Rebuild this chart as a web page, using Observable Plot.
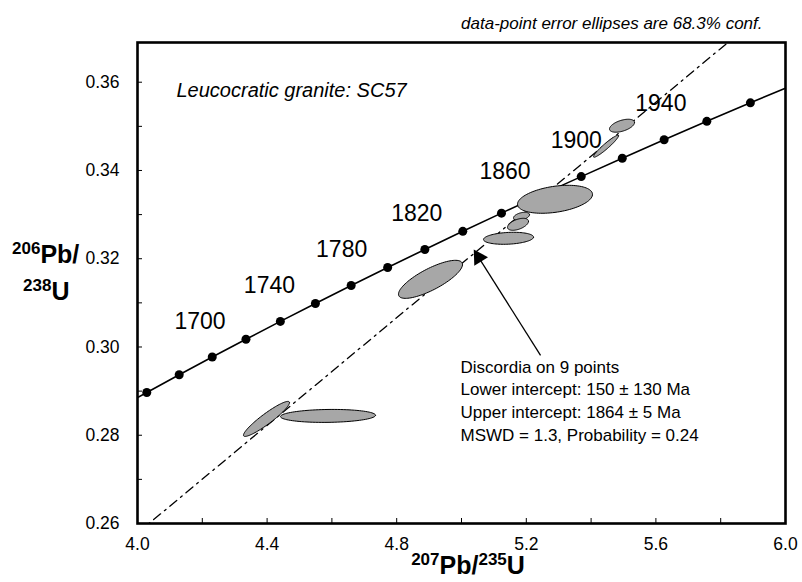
<!DOCTYPE html>
<html><head><meta charset="utf-8">
<script src="https://cdn.jsdelivr.net/npm/d3@7"></script>
<script src="https://cdn.jsdelivr.net/npm/@observablehq/plot@0.6"></script>
<style>body{margin:0;background:#fff} svg{display:block}</style>
</head><body><div id="chart"></div>
<script>
// Concordia curve points (age in Ma, 207Pb/235U, 206Pb/238U)
const concAges = [1620,1640,1660,1680,1700,1720,1740,1760,1780,1800,1820,1840,1860,1880,1900,1920,1940,1960,1980];
const concX = [3.93058,4.02866,4.12869,4.23071,4.33477,4.44089,4.54912,4.65950,4.77208,4.88690,5.00401,5.12344,5.24524,5.36947,5.49617,5.62540,5.75719,5.89160,6.02870];
const concY = [0.28570,0.28969,0.29370,0.29772,0.30175,0.30580,0.30986,0.31393,0.31801,0.32210,0.32621,0.33033,0.33447,0.33861,0.34277,0.34695,0.35113,0.35533,0.35954];
const labelAges = [1700,1740,1780,1820,1860,1900,1940];

// Data-point error ellipses: centre, half-extent in x and y, correlation
const ellX   = [5.4954,5.4460,5.2886,5.1852,5.1744,5.1451,4.9043,4.3981,4.5880];
const ellY   = [0.35014,0.34549,0.33347,0.32961,0.32780,0.32463,0.31533,0.28370,0.28438];
const ellSX  = [0.0386,0.0386,0.1157,0.0247,0.0324,0.0772,0.0988,0.0710,0.1466];
const ellSY  = [0.00147,0.00249,0.00317,0.00091,0.00136,0.00136,0.00431,0.00397,0.00147];
const ellRho = [0.5,0.95,0.35,0.4,0.5,0.2,0.78,0.93,0.1];

// Discordia line end points
const discX = [4.0, 5.85];
const discY = [0.25784, 0.37070];

// Arrow (tail -> tip) and annotation
const arrowX = [5.244, 5.043];
const arrowY = [0.2981, 0.32145];
const noteX = 4.997, noteY = 0.2978;
const noteLines = ["Discordia on 9 points","Lower intercept: 150 ± 130 Ma","Upper intercept: 1864 ± 5 Ma","MSWD = 1.3, Probability = 0.24"];
const sampleTitle = "Leucocratic granite: SC57";
const captionText = "data-point error ellipses are 68.3% conf.";

// axis ticks
const xTicks = [4.0,4.2,4.4,4.6,4.8,5.0,5.2,5.4,5.6,5.8,6.0];
const xLabelTicks = [4.0,4.4,4.8,5.2,5.6,6.0];
const yTicks = [0.26,0.27,0.28,0.29,0.30,0.31,0.32,0.33,0.34,0.35,0.36];
const yLabelTicks = [0.26,0.28,0.30,0.32,0.34,0.36];

const conc = concAges.map((a,i)=>({age:a, x:concX[i], y:concY[i]}));
const labels = conc.filter(d => labelAges.includes(d.age));
const ellPts = [];
ellX.forEach((cx,i)=>{
  const n = 96, r = ellRho[i], s = Math.sqrt(1 - r*r);
  for (let k=0;k<n;k++){
    const t = 2*Math.PI*k/n;
    ellPts.push({id:i, x: cx + ellSX[i]*Math.cos(t), y: ellY[i] + ellSY[i]*(r*Math.cos(t) + s*Math.sin(t))});
  }
});
const disc = discX.map((x,i)=>({x, y:discY[i]}));
const arrowHead = [{x: arrowX[1] + 0.05*(arrowX[0]-arrowX[1]), y: arrowY[1] + 0.05*(arrowY[0]-arrowY[1])}];

const font = "'Liberation Sans', Arial, Helvetica, sans-serif";
const near = (a, list) => list.some(v => Math.abs(v - a) < 1e-6);

const chart = Plot.plot({
  width: 802, height: 582,
  marginLeft: 137, marginRight: 17, marginTop: 42, marginBottom: 59,
  x: {domain: [4, 6]},
  y: {domain: [0.26, 0.369]},
  style: {fontFamily: font, fontSize: "17px", background: "white", color: "black", overflow: "visible"},
  marks: [
    Plot.line(conc, {x: "x", y: "y", stroke: "black", strokeWidth: 1.6, clip: true}),
    Plot.dot(conc, {x: "x", y: "y", r: 4.5, fill: "black", stroke: "none", clip: true}),
    Plot.line(disc, {x: "x", y: "y", stroke: "black", strokeWidth: 1.3, strokeDasharray: "9,5,2,5", clip: true}),
    Plot.line(ellPts, {x: "x", y: "y", z: "id", curve: "linear-closed", fill: "url(#stip)", stroke: "black", strokeWidth: 1}),
    Plot.text(labels.filter(d => d.age !== 1860), {x: "x", y: "y", text: d => String(d.age), dx: -46, dy: -18, fontSize: 23, fill: "black"}),
    Plot.text(labels.filter(d => d.age === 1860), {x: "x", y: "y", text: d => String(d.age), dx: -36, dy: -23, fontSize: 23, fill: "black"}),
    Plot.link([0], {x1: () => arrowX[0], y1: () => arrowY[0], x2: () => arrowX[1], y2: () => arrowY[1], stroke: "black", strokeWidth: 1.3}),
    Plot.dot(arrowHead, {x: "x", y: "y", symbol: "triangle", r: 6, rotate: -32, fill: "black", stroke: "none"}),
    Plot.text([noteLines.join("\n")], {x: () => noteX, y: () => noteY, text: d => d, textAnchor: "start", lineAnchor: "top", lineHeight: 1.33, fontSize: 17, fill: "black"}),
    Plot.text([sampleTitle], {frameAnchor: "top-left", dx: 39, dy: 40, text: d => d, textAnchor: "start", fontSize: 20, fontStyle: "italic", fill: "black"}),
    Plot.text([captionText], {frameAnchor: "top-right", dx: -23, dy: -26, text: d => d, textAnchor: "end", fontSize: 17, fontStyle: "italic", fill: "black"}),
    Plot.axisX({ticks: xTicks, tickSize: -5, tickPadding: 19, label: null, fontSize: 17.5,
      tickFormat: d => near(d, xLabelTicks) ? d.toFixed(1) : ""}),
    Plot.axisY({ticks: yTicks, tickSize: -5, tickPadding: 23, label: null, fontSize: 17.5,
      tickFormat: d => near(d, yLabelTicks) ? d.toFixed(2) : ""}),
    Plot.frame({stroke: "black", strokeWidth: 2.6})
  ]
});

const svg = d3.select(chart);
const pat = svg.insert("defs", ":first-child").append("pattern")
  .attr("id", "stip").attr("width", 2).attr("height", 2).attr("patternUnits", "userSpaceOnUse");
pat.append("rect").attr("width", 2).attr("height", 2).attr("fill", "#d4d4d4");
pat.append("rect").attr("x", 0).attr("y", 0).attr("width", 1).attr("height", 1).attr("fill", "#7a7a7a");
pat.append("rect").attr("x", 1).attr("y", 1).attr("width", 1).attr("height", 1).attr("fill", "#7a7a7a");

function supLabel(x, y, parts, anchor) {
  const t = svg.append("text").attr("x", x).attr("y", y).attr("text-anchor", anchor)
    .attr("font-family", font).attr("font-weight", "bold").attr("font-size", 25).attr("fill", "black");
  let up = false;
  parts.forEach(([s, sup]) => {
    const ts = t.append("tspan").text(s);
    if (sup && !up) { ts.attr("dy", -9).attr("font-size", 17); up = true; }
    else if (sup) { ts.attr("font-size", 17); }
    else if (!sup && up) { ts.attr("dy", 9); up = false; }
  });
}
supLabel(468, 574, [["207", true], ["Pb/", false], ["235", true], ["U", false]], "middle");
supLabel(12, 263, [["206", true], ["Pb/", false]], "start");
supLabel(23, 300, [["238", true], ["U", false]], "start");

document.getElementById("chart").appendChild(chart);
</script>
</body></html>
